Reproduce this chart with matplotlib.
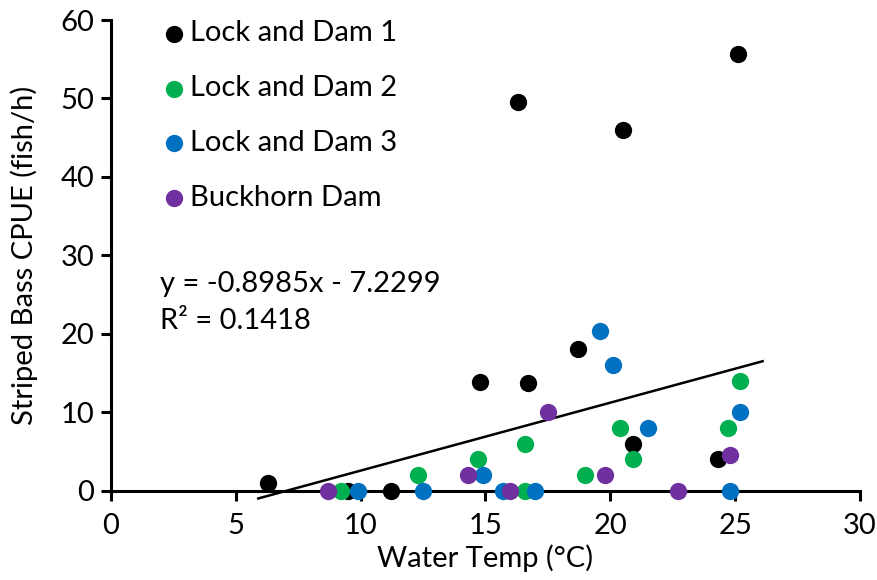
import numpy as np
import matplotlib.pyplot as plt

plt.rcParams['font.family'] = ['Lato', 'DejaVu Sans']

# water temp (C) and CPUE (fish/h) per site
ld1_temp = [6.3, 9.5, 11.2, 14.8, 16.3, 16.7, 18.7, 20.5, 20.9, 24.3, 25.1]
ld1_cpue = [1.0, 0.0, 0.0, 13.9, 49.6, 13.7, 18.0, 46.0, 6.0, 4.0, 55.7]

ld2_temp = [9.2, 12.3, 14.7, 16.6, 16.6, 19.0, 20.4, 20.9, 24.7, 25.2]
ld2_cpue = [0.0, 2.0, 4.0, 6.0, 0.0, 2.0, 8.0, 4.0, 8.0, 14.0]

ld3_temp = [9.9, 12.5, 14.9, 15.7, 17.0, 19.6, 20.1, 21.5, 24.8, 25.2]
ld3_cpue = [0.0, 0.0, 2.0, 0.0, 0.0, 20.3, 16.0, 8.0, 0.0, 10.0]

bh_temp = [8.7, 14.3, 16.0, 17.5, 19.8, 22.7, 24.8]
bh_cpue = [0.0, 2.0, 0.0, 10.0, 2.0, 0.0, 4.5]

# trendline as drawn in the source chart
trend_x = [5.9, 26.1]
trend_slope = 0.866
trend_icept = -6.1

fig = plt.figure(figsize=(8.78, 5.8), dpi=100)
ax = fig.add_axes([0.1264, 0.154, 0.8531, 0.8115])

series = [
    (ld1_temp, ld1_cpue, '#000000', 'Lock and Dam 1'),
    (ld2_temp, ld2_cpue, '#00b050', 'Lock and Dam 2'),
    (ld3_temp, ld3_cpue, '#0070c0', 'Lock and Dam 3'),
    (bh_temp, bh_cpue, '#7030a0', 'Buckhorn Dam'),
]

tx = np.array(trend_x)
ax.plot(tx, trend_slope * tx + trend_icept, color='black', lw=1.8,
        clip_on=False, zorder=2)

for xs, ys, col, lab in series:
    ax.scatter(xs, ys, s=155, color=col, label=lab, linewidths=0,
               clip_on=False, zorder=3)

fs = 21
ax.set_xlim(0, 30)
ax.set_ylim(0, 60)
ax.set_xticks(range(0, 31, 5))
ax.set_yticks(range(0, 61, 10))
for side in ['top', 'right']:
    ax.spines[side].set_visible(False)
for side in ['left', 'bottom']:
    ax.spines[side].set_linewidth(2.2)
ax.tick_params(direction='out', length=7, width=2.2, labelsize=fs, pad=5)
ax.tick_params(axis='x', pad=9)

ax.set_xlabel('Water Temp (°C)', fontsize=fs, labelpad=4)
ax.set_ylabel('Striped Bass CPUE (fish/h)', fontsize=fs, labelpad=16)

ax.text(1.96, 24.0, 'y = -0.8985x - 7.2299\nR² = 0.1418', fontsize=fs,
        va='center', ha='left', linespacing=1.5)

ax.legend(loc='upper left', bbox_to_anchor=(0.057, 1.024), frameon=False,
          fontsize=fs, handlelength=0.6, handletextpad=0.25,
          labelspacing=0.99, borderaxespad=0, markerscale=1.0)

fig.savefig('out.png', dpi=100)
